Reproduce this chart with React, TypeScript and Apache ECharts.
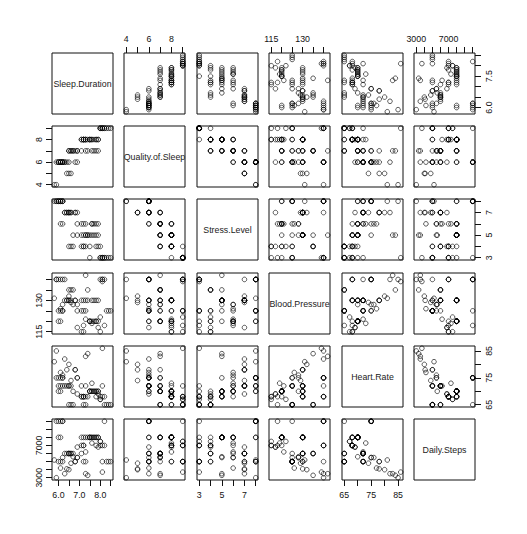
import React, { useEffect, useRef } from "react";
import * as echarts from "echarts";

// ---- data (one entry per distinct observation profile) ----
const variableNames = [
  "Sleep.Duration",
  "Quality.of.Sleep",
  "Stress.Level",
  "Blood.Pressure",
  "Heart.Rate",
  "Daily.Steps",
];

const sleepDuration = [
  6.1, 6.2, 5.9, 6.3, 7.8, 7.6, 7.7, 7.9, 6.1, 6.0, 6.5, 6.4, 7.9, 6.1, 6.0, 6.2, 7.5, 7.2, 6.2, 5.8,
  6.7, 7.5, 7.2, 7.1, 7.2, 7.3, 7.4, 6.6, 7.8, 7.5, 7.4, 7.3, 7.1, 7.2, 6.9, 8.0, 7.9, 7.6, 7.7, 7.8,
  7.3, 7.1, 6.5, 6.3, 6.4, 6.8, 6.7, 6.6, 6.5, 6.9, 7.3, 5.9, 6.0, 6.1, 6.2, 8.1, 8.3, 8.4, 8.5, 6.5,
  6.6, 8.1, 8.2, 8.0, 8.1, 8.2, 6.9, 7.6, 8.0, 6.8,
];
const qualityOfSleep = [
  6, 6, 4, 6, 7, 7, 7, 7, 6, 6, 5, 5, 8, 6, 6, 6, 8, 8, 6, 4,
  7, 8, 8, 8, 8, 8, 7, 5, 8, 8, 8, 8, 8, 8, 7, 9, 8, 8, 8, 8,
  8, 7, 6, 6, 6, 6, 7, 7, 7, 7, 7, 6, 6, 6, 6, 9, 9, 9, 9, 7,
  7, 9, 9, 9, 9, 9, 6, 8, 9, 7,
];
const stressLevel = [
  6, 8, 8, 7, 6, 6, 6, 6, 8, 8, 7, 7, 4, 8, 8, 8, 3, 6, 6, 8,
  5, 5, 4, 4, 4, 4, 5, 7, 4, 4, 5, 5, 5, 5, 6, 3, 5, 5, 5, 5,
  6, 6, 7, 7, 7, 7, 4, 4, 4, 5, 5, 8, 8, 8, 8, 3, 3, 3, 3, 7,
  7, 3, 3, 3, 3, 3, 7, 6, 4, 7,
];
const bloodPressure = [
  126, 125, 140, 140, 120, 120, 120, 120, 120, 120, 132, 130, 117, 125, 125, 125, 120, 118, 128, 131,
  128, 120, 115, 115, 125, 125, 135, 129, 120, 120, 130, 130, 130, 130, 128, 115, 130, 130, 130, 130,
  121, 125, 130, 130, 130, 130, 135, 135, 135, 125, 142, 140, 140, 140, 140, 139, 125, 125, 125, 130,
  130, 140, 118, 140, 140, 140, 117, 119, 122, 130,
];
const heartRate = [
  77, 75, 85, 82, 70, 70, 70, 70, 70, 70, 80, 78, 69, 72, 72, 72, 70, 68, 76, 81,
  70, 70, 68, 68, 65, 65, 84, 74, 68, 70, 68, 68, 68, 68, 75, 67, 70, 70, 70, 70,
  72, 72, 72, 72, 72, 78, 65, 65, 65, 75, 83, 75, 75, 75, 75, 86, 65, 65, 65, 72,
  72, 72, 65, 68, 68, 68, 69, 73, 67, 78,
];
const dailySteps = [
  4200, 10000, 3000, 3500, 8000, 8000, 8000, 8000, 8000, 8000, 4000, 4100, 6800, 5000, 5000, 5000, 8000, 7000, 5500, 5200,
  5600, 8000, 7000, 7000, 5000, 5000, 3300, 4800, 7000, 8000, 8000, 8000, 8000, 8000, 5500, 7500, 8000, 8000, 8000, 8000,
  6200, 6000, 6000, 6000, 6000, 5000, 6000, 6000, 6000, 5500, 3500, 10000, 10000, 10000, 10000, 3700, 5000, 5000, 5000, 6000,
  6000, 5000, 10000, 7000, 7000, 7000, 6800, 7300, 7500, 5000,
];

// ---- tick marks and tick labels ----
const sleepTicks = [6.0, 6.5, 7.0, 7.5, 8.0, 8.5];
const sleepLabelsBottom = [6.0, 7.0, 8.0];
const sleepLabelsRight = [6.0, 7.5];
const qualityTicks = [4, 5, 6, 7, 8, 9];
const qualityLabels = [4, 6, 8];
const stressTicks = [3, 4, 5, 6, 7, 8];
const stressLabels = [3, 5, 7];
const bpTicks = [115, 120, 125, 130, 135, 140];
const bpLabels = [115, 130];
const hrTicks = [65, 70, 75, 80, 85];
const hrLabels = [65, 75, 85];
const stepsTicks = [3000, 4000, 5000, 6000, 7000, 8000, 9000, 10000];
const stepsLabels = [3000, 7000];

const columns = [sleepDuration, qualityOfSleep, stressLevel, bloodPressure, heartRate, dailySteps];
const ticks = [sleepTicks, qualityTicks, stressTicks, bpTicks, hrTicks, stepsTicks];
const xLabels = [sleepLabelsBottom, qualityLabels, stressLabels, bpLabels, hrLabels, stepsLabels];
const yLabels = [sleepLabelsRight, qualityLabels, stressLabels, bpLabels, hrLabels, stepsLabels];
const decimals = [1, 0, 0, 0, 0, 0];

// ---- layout ----
const LEFT0 = 52;
const TOP0 = 53;
const STEP_X = 72.4;
const STEP_Y = 73.2;
const SIZE = 61;
const FONT = "'Liberation Sans', Arial, sans-serif";
const FS = 8.8;
const INK = "#111";

export default function App() {
  const ref = useRef<HTMLDivElement>(null);

  useEffect(() => {
    document.body.style.margin = "0";
    const chart = echarts.init(ref.current!, null, { renderer: "svg" });
    const n = variableNames.length;

    const ranges = columns.map((c) => {
      const lo = Math.min(...c);
      const hi = Math.max(...c);
      const pad = (hi - lo) * 0.04;
      return [lo - pad, hi + pad];
    });

    const grids: any[] = [];
    const xAxes: any[] = [];
    const yAxes: any[] = [];
    const series: any[] = [];
    const graphics: any[] = [];

    for (let i = 0; i < n; i++) {
      for (let j = 0; j < n; j++) {
        const p = i * n + j;
        const left = Math.round(LEFT0 + j * STEP_X);
        const top = Math.round(TOP0 + i * STEP_Y);
        grids.push({
          left,
          top,
          width: SIZE,
          height: SIZE,
          show: true,
          borderColor: INK,
          borderWidth: 1,
          backgroundColor: "transparent",
          containLabel: false,
        });

        const xTop = j % 2 === 1;
        const showX = (xTop && i === 0) || (!xTop && i === n - 1);
        const yRight = i % 2 === 0;
        const showY = (yRight && j === n - 1) || (!yRight && j === 0);

        xAxes.push({
          gridIndex: p,
          type: "value",
          min: ranges[j][0],
          max: ranges[j][1],
          position: xTop ? "top" : "bottom",
          axisLine: { show: false },
          splitLine: { show: false },
          axisTick: {
            show: showX,
            length: 6,
            customValues: ticks[j],
            lineStyle: { color: INK, width: 1 },
          },
          axisLabel: {
            show: showX,
            customValues: xLabels[j],
            margin: 10,
            fontSize: FS,
            fontFamily: FONT,
            color: INK,
            formatter: (v: number) => v.toFixed(decimals[j]),
          },
        });
        yAxes.push({
          gridIndex: p,
          type: "value",
          min: ranges[i][0],
          max: ranges[i][1],
          position: yRight ? "right" : "left",
          axisLine: { show: false },
          splitLine: { show: false },
          axisTick: {
            show: showY,
            length: 6,
            customValues: ticks[i],
            lineStyle: { color: INK, width: 1 },
          },
          axisLabel: {
            show: showY,
            customValues: yLabels[i],
            rotate: 90,
            margin: 9,
            fontSize: FS,
            fontFamily: FONT,
            color: INK,
            formatter: (v: number) => v.toFixed(decimals[i]),
          },
        });

        if (i === j) {
          graphics.push({
            type: "text",
            x: left + SIZE / 2,
            y: top + SIZE / 2,
            silent: true,
            style: {
              text: variableNames[i],
              fontSize: FS,
              fontFamily: FONT,
              fill: "#222",
              align: "center",
              verticalAlign: "middle",
            },
          });
        } else {
          const xs = columns[j];
          const ys = columns[i];
          series.push({
            type: "scatter",
            xAxisIndex: p,
            yAxisIndex: p,
            symbol: "circle",
            symbolSize: 4.6,
            silent: true,
            itemStyle: { color: "rgba(0,0,0,0)", borderColor: "#000", borderWidth: 0.8 },
            data: xs.map((x, k) => [x, ys[k]]),
          });
        }
      }
    }

    chart.setOption({
      animation: false,
      backgroundColor: "#fff",
      grid: grids,
      xAxis: xAxes,
      yAxis: yAxes,
      series,
      graphic: graphics,
    });
    return () => chart.dispose();
  }, []);

  return (
    <div
      ref={ref}
      style={{ position: "fixed", left: 0, top: 0, width: 527, height: 534, background: "#fff" }}
    />
  );
}
